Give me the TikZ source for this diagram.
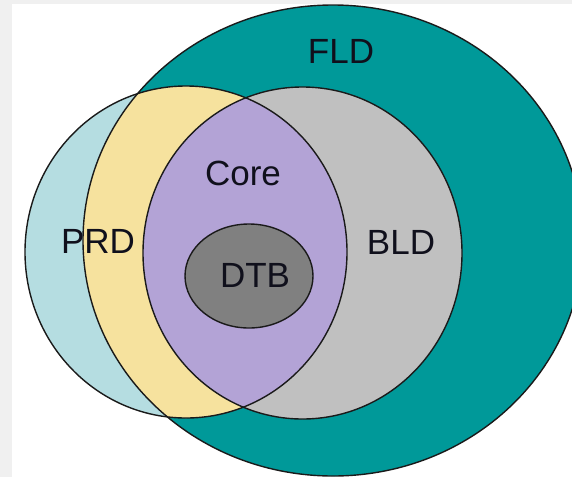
\documentclass[tikz,border=0pt]{standalone}
\usepackage{fontspec}
\setmainfont{Liberation Sans}
\definecolor{fldteal}{HTML}{009999}
\definecolor{prdblue}{HTML}{B5DDE1}
\definecolor{prdyellow}{HTML}{F6E29E}
\definecolor{corepurple}{HTML}{B3A3D6}
\definecolor{bldgray}{HTML}{C0C0C0}
\definecolor{dtbgray}{HTML}{808080}
\definecolor{stripgray}{HTML}{F0F0F0}
\definecolor{inkline}{HTML}{1A1A1A}
\definecolor{inktext}{HTML}{10101C}
\begin{document}
\begin{tikzpicture}[x=1pt,y=-1pt,
  outline/.style={draw=inkline, line width=1.4pt},
  lbl/.style={font=\fontsize{35}{40}\selectfont, text=inktext, inner sep=0pt}]
% background
\fill[white] (0,0) rectangle (572,477);
\fill[stripgray] (0,0) rectangle (12,477);
\fill[stripgray] (0,0) rectangle (572,3.5);
\useasboundingbox (0,0) rectangle (572,477);
% FLD
\fill[fldteal] (333,240.5) ellipse [x radius=250pt, y radius=235.5pt];
% PRD
\fill[prdblue] (186,252) ellipse [x radius=161pt, y radius=166pt];
\begin{scope}
  \clip (333,240.5) ellipse [x radius=250pt, y radius=235.5pt];
  \fill[prdyellow] (186,252) ellipse [x radius=161pt, y radius=166pt];
\end{scope}
% BLD
\fill[bldgray] (302.5,253) ellipse [x radius=159.5pt, y radius=166pt];
\begin{scope}
  \clip (186,252) ellipse [x radius=161pt, y radius=166pt];
  \fill[corepurple] (302.5,253) ellipse [x radius=159.5pt, y radius=166pt];
\end{scope}
% outlines
\draw[outline] (333,240.5) ellipse [x radius=250pt, y radius=235.5pt];
\draw[outline] (186,252) ellipse [x radius=161pt, y radius=166pt];
\draw[outline] (302.5,253) ellipse [x radius=159.5pt, y radius=166pt];
% DTB
\filldraw[fill=dtbgray, outline] (249,276) ellipse [x radius=64pt, y radius=52pt];
% labels
\node[lbl] (fld) at (341,51) {FLD};
\node[lbl] (prd) at (98,241) {PRD};
\node[lbl] (core) at (243,173) {Core};
\node[lbl] (bld) at (401,242) {BLD};
\node[lbl] (dtb) at (255,275) {DTB};
\end{tikzpicture}
\end{document}
